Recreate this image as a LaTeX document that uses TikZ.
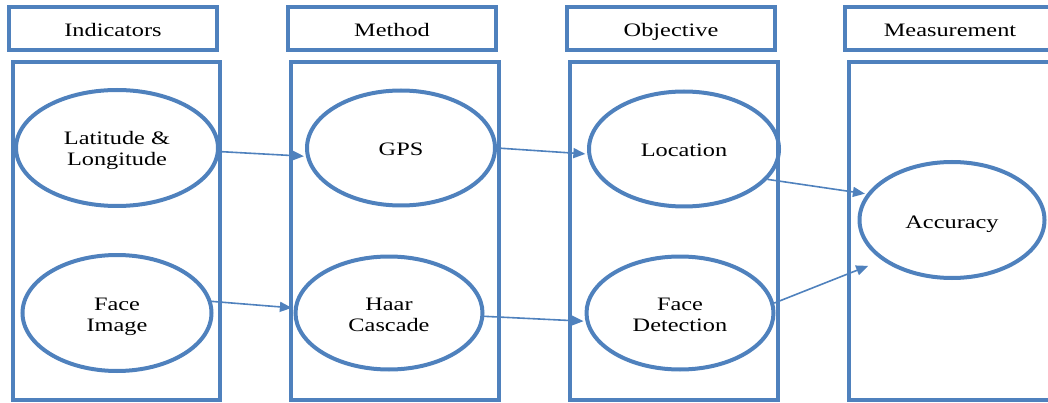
\documentclass[tikz,border=0pt]{standalone}
\usepackage{fontspec}
\setmainfont{Liberation Serif}[FakeStretch=1.28]
\usetikzlibrary{shapes.geometric,arrows.meta}
\definecolor{frameblue}{RGB}{79,129,189}
% centred text block, lowered a little below the middle of its shape
\newcommand\droptext[2]{\raisebox{-#1}[\height][\depth]{\begin{tabular}{@{}c@{}}#2\end{tabular}}}
\tikzset{
  label font/.style={font=\fontsize{19}{21}\selectfont, text=black},
  header/.style={draw=frameblue, line width=4pt, rectangle, inner sep=0pt,
    minimum width=208pt, minimum height=43pt, label font},
  panel/.style={draw=frameblue, line width=4pt, rectangle, inner sep=0pt,
    minimum height=338pt},
  oval/.style={draw=frameblue, line width=4pt, ellipse, inner sep=0pt, label font},
  link/.style={draw=frameblue, line width=1.6pt, shorten >=2pt,
    -{Triangle[length=12pt,width=10pt]}}
}
\begin{document}
\begin{tikzpicture}[x=1pt,y=-1pt]
\useasboundingbox (0,0) rectangle (1048,403);
\clip (0,0) rectangle (1048,403);

% column headers
\node[header] (hInd) at (113,28.5) {\droptext{4pt}{Indicators}};
\node[header] (hMet) at (392,28.5) {\droptext{4pt}{Method}};
\node[header] (hObj) at (671,28.5) {\droptext{4pt}{Objective}};
\node[header, minimum width=230pt] (hMea) at (960,28.5) {};
\node[label font] (hMeaText) at (950,28.5) {\droptext{4pt}{Measurement}};

% column panels
\node[panel, minimum width=207pt] (pInd) at (116.5,231) {};
\node[panel, minimum width=208pt] (pMet) at (395,231) {};
\node[panel, minimum width=208pt] (pObj) at (674,231) {};
\node[panel, minimum width=230pt] (pMea) at (964,231) {};

% indicators
\node[oval, minimum width=202pt, minimum height=116pt] (lat) at (117,148) {\droptext{3.3pt}{Latitude \&\\Longitude}};
\node[oval, minimum width=189pt, minimum height=116pt] (face) at (117,313) {\droptext{3.3pt}{Face\\Image}};

% methods
\node[oval, minimum width=188pt, minimum height=115pt] (gps) at (401,148) {\droptext{3pt}{GPS}};
\node[oval, minimum width=187pt, minimum height=113pt] (haar) at (389,313) {\droptext{3.3pt}{Haar\\Cascade}};

% objectives
\node[oval, minimum width=190pt, minimum height=115pt] (loc) at (684,149) {\droptext{3pt}{Location}};
\node[oval, minimum width=187pt, minimum height=113pt] (fdet) at (680,313) {\droptext{3.3pt}{Face\\Detection}};

% measurement
\node[oval, minimum width=185pt, minimum height=116pt] (acc) at (952,220) {\droptext{4pt}{Accuracy}};

% connectors
\draw[link, shorten <=-2pt] (lat.-2) -- (gps.185);
\draw[link, shorten <=-3pt] (gps.0) -- (loc.183);
\draw[link] (loc.-20) -- (acc.163);
\draw[link, shorten <=-2pt] (face.7) -- (haar.177);
\draw[link, shorten <=-3pt] (haar.-2) -- (fdet.185);
\draw[link, shorten >=15pt] (fdet.6) -- (acc.210);
\end{tikzpicture}
\end{document}
